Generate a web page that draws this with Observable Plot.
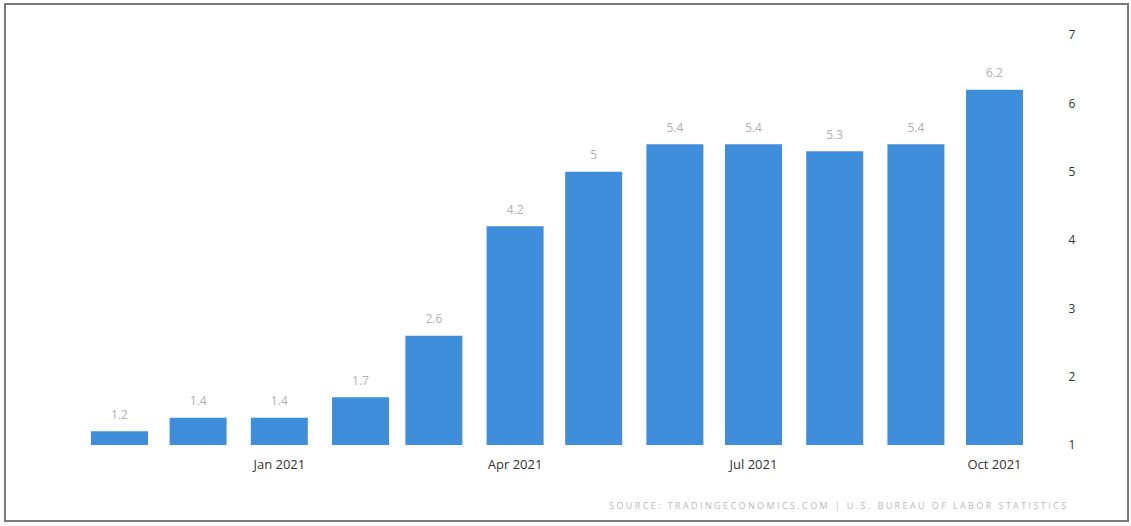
<!DOCTYPE html>
<html>
<head>
<meta charset="utf-8">
<script src="https://cdn.jsdelivr.net/npm/d3@7"></script>
<script src="https://cdn.jsdelivr.net/npm/@observablehq/plot@0.6"></script>
<style>
  html, body { margin: 0; padding: 0; background: #fff; }
  #wrap { position: relative; width: 1131px; height: 526px; overflow: hidden; }
  #border { position: absolute; left: 4px; top: 3px; width: 1121px; height: 515px; border: 2px solid #7a7a7a; pointer-events: none; }
</style>
</head>
<body>
<div id="wrap"><div id="chart"></div><div id="border"></div></div>
<script>
const months = ["2020-11-01","2020-12-01","2021-01-01","2021-02-01","2021-03-01","2021-04-01","2021-05-01","2021-06-01","2021-07-01","2021-08-01","2021-09-01","2021-10-01"];
const values = [1.2, 1.4, 1.4, 1.7, 2.6, 4.2, 5, 5.4, 5.4, 5.3, 5.4, 6.2];
const xTicks = ["2021-01-01","2021-04-01","2021-07-01","2021-10-01"];
const yTicks = [1, 2, 3, 4, 5, 6, 7];
const source = "SOURCE: TRADINGECONOMICS.COM | U.S. BUREAU OF LABOR STATISTICS";

const data = months.map((m, i) => ({date: new Date(m), value: values[i]}));
const fmt = d3.utcFormat("%b %Y");

const chart = Plot.plot({
  width: 1131,
  height: 526,
  marginLeft: 119,
  marginRight: 137,
  marginTop: 35,
  marginBottom: 81,
  style: {fontFamily: "'Open Sans', 'DejaVu Sans', sans-serif", background: "transparent"},
  x: {type: "utc", domain: [new Date(months[0]), new Date(months[months.length - 1])], label: null},
  y: {domain: [1, 7], label: null},
  marks: [
    Plot.ruleX(data, {x: "date", y1: 1, y2: "value", stroke: "#3f8edb", strokeWidth: 57, strokeLinecap: "butt"}),
    Plot.text(data, {x: "date", y: "value", text: d => String(d.value), dy: -17, fill: "#b0b0b0", fontSize: 12}),
    Plot.axisX(xTicks.map(t => new Date(t)), {tickSize: 0, tickPadding: 14, tickFormat: fmt, fontSize: 13, color: "#333", label: null}),
    Plot.axisY(yTicks, {anchor: "right", tickSize: 0, tickPadding: 74, fontSize: 12, color: "#333", textAnchor: "start", tickFormat: d => String(d), label: null}),
    Plot.text([source], {frameAnchor: "bottom-right", dx: 74, dy: 63, fill: "#b8b8b8", fontSize: 9, textAnchor: "end"})
  ]
});
d3.select(chart).selectAll("text").filter(function() { return this.textContent === source; })
  .style("letter-spacing", "2.4px");
document.getElementById("chart").appendChild(chart);
</script>
</body>
</html>
